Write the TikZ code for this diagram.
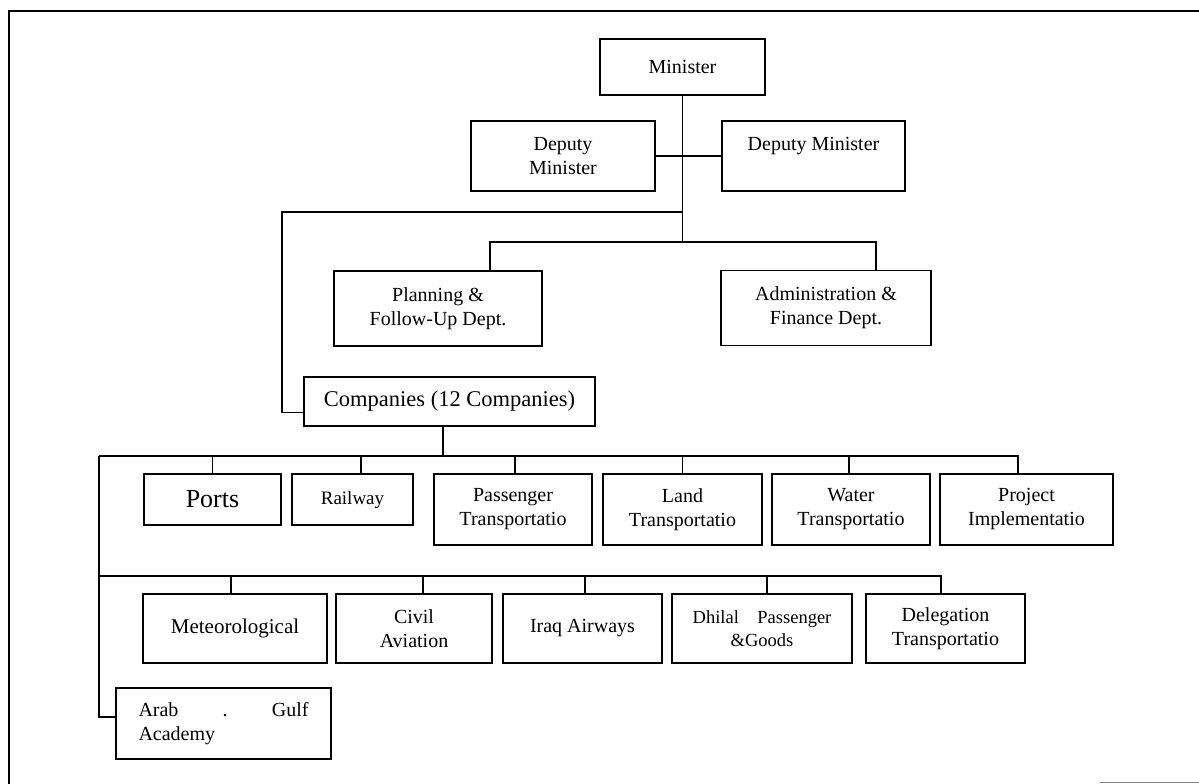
\documentclass[tikz,border=0pt]{standalone}
\usepackage{fontspec}
\setmainfont{Liberation Serif}
\begin{document}
\begin{tikzpicture}[x=1pt,y=-1pt,
  box/.style={draw, line width=1.8pt, rectangle, align=center, inner sep=0pt,
              font=\fontsize{20}{24}\selectfont},
  link/.style={line width=1.2pt},
  frame/.style={line width=1.8pt}]
\useasboundingbox (0,0) rectangle (1199,784);

% outer frame
\draw[frame] (9,784) -- (9,11) -- (1199,11);
\draw[line width=1pt, gray] (1100,782) -- (1199,782);

% ministry top
\node[box, minimum width=165pt, minimum height=56pt] (minister) at (682.5,67) {Minister};
\node[box, minimum width=184pt, minimum height=70pt] (depL) at (563,156) {Deputy\\Minister};
\node[box, minimum width=183pt, minimum height=70pt] (depR) at (813.5,156) {Deputy Minister\\\mbox{}};

\node[box, minimum width=208pt, minimum height=75pt] (planning) at (438,308.5) {Planning \&\\Follow-Up Dept.};
\node[box, minimum width=210pt, minimum height=75pt] (admin) at (826,308) {Administration \&\\Finance Dept.};

\node[box, minimum width=291pt, minimum height=49pt, font=\fontsize{22.5}{26}\selectfont] (companies) at (449.5,401.5) {Companies (12 Companies)};

% first row of companies
\node[box, minimum width=137pt, minimum height=51pt, line width=2.4pt, font=\fontsize{26}{30}\selectfont] (ports) at (212.5,499.5) {Ports};
\node[box, minimum width=121pt, minimum height=51pt, font=\fontsize{19}{24}\selectfont] (railway) at (352.5,499.5) {Railway};
\node[box, minimum width=158pt, minimum height=71pt] (passenger) at (513,509.5) {Passenger\\Transportatio};
\node[box, minimum width=159pt, minimum height=71pt] (land) at (682.5,509.5) {Land\\Transportatio};
\node[box, minimum width=158pt, minimum height=71pt] (water) at (851,509.5) {Water\\Transportatio};
\node[box, minimum width=173pt, minimum height=71pt] (project) at (1026.5,509.5) {Project\\Implementatio};

% second row of companies
\node[box, minimum width=184pt, minimum height=69pt, font=\fontsize{21}{24}\selectfont] (meteo) at (235,628.5) {Meteorological};
\node[box, minimum width=156pt, minimum height=69pt] (civil) at (414,628.5) {Civil\\Aviation};
\node[box, minimum width=159pt, minimum height=69pt] (iraq) at (582.5,628.5) {Iraq Airways};
\node[box, minimum width=180pt, minimum height=69pt, font=\fontsize{18.5}{23}\selectfont] (dhilal) at (762,628.5) {Dhilal\quad Passenger\\\&Goods};
\node[box, minimum width=159pt, minimum height=69pt] (deleg) at (945.5,628.5) {Delegation\\Transportatio};

\node[box, minimum width=215pt, minimum height=71pt, align=left] (arab) at (223.5,723.5)
  {\parbox{170pt}{Arab\hfill.\hfill Gulf\\Academy}};

% junction points
\coordinate (busTop) at (682.5,242);
\coordinate (jLeft) at (682.5,212);
\coordinate (cornerL) at (282,212);
\coordinate (bus1L) at (99,456);
\coordinate (bus1C) at (443,456);
\coordinate (bus2L) at (99,576);

% upper connectors
\draw[link] (minister.south) -- (busTop);
\draw[link] (depL.east) -- (depR.west);
\draw[link] (jLeft) -- (cornerL) |- ([yshift=-11pt]companies.west);
\draw[link] ([xshift=52pt]planning.north) |- (busTop) -| ([xshift=50pt]admin.north);

% companies to first bus
\draw[link] ([xshift=-6.5pt]companies.south) -- (bus1C);
\draw[link] (bus1L) -| ([xshift=-8.5pt]project.north);
\draw[link] (ports.north |- bus1L) -- (ports.north);
\draw[link] ([xshift=8.5pt]railway.north |- bus1L) -- ([xshift=8.5pt]railway.north);
\draw[link] ([xshift=2pt]passenger.north |- bus1L) -- ([xshift=2pt]passenger.north);
\draw[link] (land.north |- bus1L) -- (land.north);
\draw[link] ([xshift=-2pt]water.north |- bus1L) -- ([xshift=-2pt]water.north);

% left spine, second bus and academy
\draw[link] (bus1L) |- ([yshift=6.5pt]arab.west);
\draw[link] (bus2L) -| ([xshift=-4.5pt]deleg.north);
\draw[link] ([xshift=-4pt]meteo.north |- bus2L) -- ([xshift=-4pt]meteo.north);
\draw[link] ([xshift=9pt]civil.north |- bus2L) -- ([xshift=9pt]civil.north);
\draw[link] ([xshift=2.5pt]iraq.north |- bus2L) -- ([xshift=2.5pt]iraq.north);
\draw[link] ([xshift=5pt]dhilal.north |- bus2L) -- ([xshift=5pt]dhilal.north);
\end{tikzpicture}
\end{document}
